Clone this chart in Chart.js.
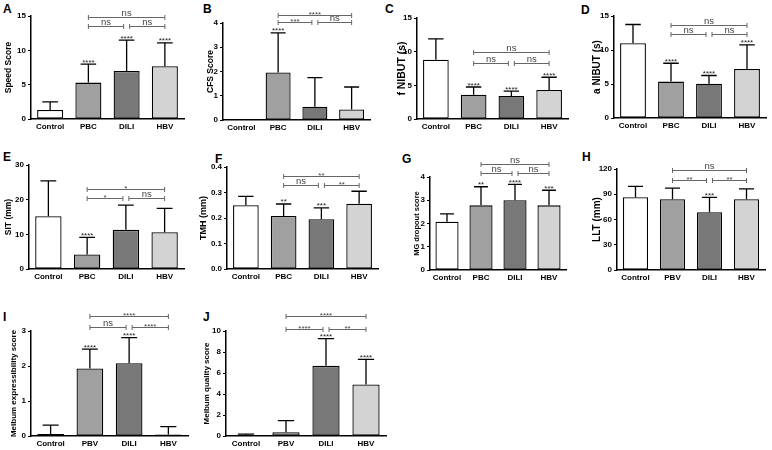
<!DOCTYPE html>
<html>
<head>
<meta charset="utf-8">
<script src="https://cdn.jsdelivr.net/npm/chart.js@4"></script>
<style>
  body { margin: 0; background: #fff; }
  #fig { position: relative; width: 772px; height: 450px; overflow: hidden; font-family: "Liberation Sans", Arial, sans-serif; }
  .tag { position: absolute; font-weight: bold; font-size: 12px; line-height: 1; color: #000; }
</style>
</head>
<body>
<div id="fig"></div>
<script>
// Groups
const groupsA = ['Control', 'PBC', 'DILI', 'HBV']
const groupsB = ['Control', 'PBV', 'DILI', 'HBV']

// Mean and SD (upper error bar) per panel
const speedMean = [1.3, 5.3, 7.0, 7.7]
const speedSD = [1.2, 2.7, 4.5, 3.4]
const cfsMean = [0, 1.96, 0.55, 0.43]
const cfsSD = [0, 1.63, 1.2, 0.93]
const fNibutMean = [8.8, 3.6, 3.4, 4.3]
const fNibutSD = [3.1, 1.15, 0.75, 1.9]
const aNibutMean = [11.0, 5.35, 5.05, 7.2]
const aNibutSD = [2.75, 2.7, 1.2, 3.55]
const sitMean = [15.2, 4.2, 11.3, 10.6]
const sitSD = [10.2, 4.9, 7.1, 6.9]
const tmhMean = [0.25, 0.208, 0.195, 0.256]
const tmhSD = [0.035, 0.047, 0.045, 0.049]
const mgMean = [2.08, 2.78, 3.0, 2.78]
const mgSD = [0.33, 0.8, 0.68, 0.65]
const lltMean = [86.5, 84.2, 68.7, 84.2]
const lltSD = [12.8, 13.1, 17.5, 12.3]
const expressMean = [0.06, 1.93, 2.08, 0.04]
const expressSD = [0.25, 0.55, 0.73, 0.23]
const qualityMean = [0.07, 0.36, 6.68, 4.9]
const qualitySD = [0.1, 1.1, 2.6, 2.4]

// Significance vs control
const speedStars = ['', '****', '****', '****']
const cfsStars = ['', '****', '', '']
const fNibutStars = ['', '****', '****', '****']
const aNibutStars = ['', '****', '****', '****']
const sitStars = ['', '****', '', '']
const tmhStars = ['', '**', '***', '']
const mgStars = ['', '**', '****', '***']
const lltStars = ['', '', '***', '']
const expressStars = ['', '****', '****', '']
const qualityStars = ['', '', '****', '****']

// Between-group brackets: [from, to, level (axis units), label]
const speedBrackets = [[1, 3, 14.85, 'ns'], [1, 2, 13.55, 'ns'], [2, 3, 13.55, 'ns']]
const cfsBrackets = [[1, 3, 4.34, '****'], [1, 2, 4.03, '***'], [2, 3, 4.03, 'ns']]
const fNibutBrackets = [[1, 3, 9.97, 'ns'], [1, 2, 8.34, 'ns'], [2, 3, 8.34, 'ns']]
const aNibutBrackets = [[1, 3, 13.74, 'ns'], [1, 2, 12.42, 'ns'], [2, 3, 12.42, 'ns']]
const sitBrackets = [[1, 3, 23.0, '*'], [1, 2, 20.6, '*'], [2, 3, 20.6, 'ns']]
const tmhBrackets = [[1, 3, 0.3635, '**'], [1, 2, 0.328, 'ns'], [2, 3, 0.328, '**']]
const mgBrackets = [[1, 3, 4.58, 'ns'], [1, 2, 4.17, 'ns'], [2, 3, 4.17, 'ns']]
const lltBrackets = [[1, 3, 119.2, 'ns'], [1, 2, 107.3, '**'], [2, 3, 107.3, '**']]
const expressBrackets = [[1, 3, 3.43, '****'], [1, 2, 3.12, 'ns'], [2, 3, 3.12, '****']]
const qualityBrackets = [[1, 3, 11.39, '****'], [1, 2, 10.22, '****'], [2, 3, 10.22, '**']]

const barColors = ['#ffffff', '#a0a0a0', '#787878', '#d3d3d3']
const FONT = '"Liberation Sans", Arial, sans-serif'

const panels = [
  { id: 'A', cats: groupsA, mean: speedMean, sd: speedSD, stars: speedStars, brackets: speedBrackets, max: 15, step: 5, title: 'Speed Score' },
  { id: 'B', cats: groupsA, mean: cfsMean, sd: cfsSD, stars: cfsStars, brackets: cfsBrackets, max: 4, step: 1, title: 'CFS Score' },
  { id: 'C', cats: groupsA, mean: fNibutMean, sd: fNibutSD, stars: fNibutStars, brackets: fNibutBrackets, max: 15, step: 5, title: 'f NIBUT (s)' },
  { id: 'D', cats: groupsA, mean: aNibutMean, sd: aNibutSD, stars: aNibutStars, brackets: aNibutBrackets, max: 15, step: 5, title: 'a NIBUT (s)' },
  { id: 'E', cats: groupsA, mean: sitMean, sd: sitSD, stars: sitStars, brackets: sitBrackets, max: 30, step: 10, title: 'SIT (mm)' },
  { id: 'F', cats: groupsA, mean: tmhMean, sd: tmhSD, stars: tmhStars, brackets: tmhBrackets, max: 0.4, step: 0.1, title: 'TMH (mm)', decimals: 1 },
  { id: 'G', cats: groupsA, mean: mgMean, sd: mgSD, stars: mgStars, brackets: mgBrackets, max: 4, step: 1, title: 'MG dropout score' },
  { id: 'H', cats: groupsB, mean: lltMean, sd: lltSD, stars: lltStars, brackets: lltBrackets, max: 120, step: 30, title: 'LLT (mm)' },
  { id: 'I', cats: groupsB, mean: expressMean, sd: expressSD, stars: expressStars, brackets: expressBrackets, max: 3, step: 1, title: 'Meibum expressibility score' },
  { id: 'J', cats: groupsB, mean: qualityMean, sd: qualitySD, stars: qualityStars, brackets: qualityBrackets, max: 10, step: 2, title: 'Meibum quality score' }
]

// plot area (page px), y-title centre and size, canvas top, panel letter position
const boxes = {
  A: { l: 31, r: 184, t: 16, b: 119, tx: 10, ts: 8.5, top: 0, lx: 3, ly: 3 },
  B: { l: 223, r: 370, t: 23, b: 120, tx: 212, ts: 8.5, top: 0, lx: 203, ly: 3 },
  C: { l: 417, r: 568, t: 18, b: 119, tx: 403, ts: 10.5, top: 0, lx: 385, ly: 3 },
  D: { l: 614, r: 766, t: 16, b: 118, tx: 598, ts: 10, top: 0, lx: 581, ly: 4 },
  E: { l: 29, r: 184, t: 165, b: 269, tx: 10, ts: 8.5, top: 146, lx: 3, ly: 151 },
  F: { l: 227, r: 378, t: 167, b: 269, tx: 204, ts: 9, top: 146, lx: 215, ly: 153 },
  G: { l: 430, r: 566, t: 177, b: 270, tx: 417, ts: 7.5, top: 146, lx: 402, ly: 153 },
  H: { l: 617, r: 765, t: 169, b: 270, tx: 598, ts: 10, top: 146, lx: 582, ly: 151 },
  I: { l: 31, r: 188, t: 331, b: 436, tx: 15, ts: 8, top: 300, lx: 3, ly: 311 },
  J: { l: 226, r: 386, t: 331, b: 436, tx: 208, ts: 8, top: 300, lx: 203, ly: 311 }
}

Chart.defaults.font.family = FONT
Chart.defaults.color = '#000'

// error bars, stars and comparison brackets
function extras(p) {
  return {
    id: 'extras' + p.id,
    afterDatasetsDraw(chart) {
      const ctx = chart.ctx
      const y = chart.scales.y
      const bars = chart.getDatasetMeta(0).data
      ctx.save()
      ctx.textAlign = 'center'
      ctx.textBaseline = 'alphabetic'
      bars.forEach((bar, i) => {
        if (!p.sd[i]) return
        const top = y.getPixelForValue(p.mean[i] + p.sd[i])
        const cap = bar.width * 0.3
        ctx.strokeStyle = '#000'
        ctx.lineWidth = 1.3
        ctx.beginPath()
        ctx.moveTo(bar.x, bar.y)
        ctx.lineTo(bar.x, top)
        ctx.moveTo(bar.x - cap, top)
        ctx.lineTo(bar.x + cap, top)
        ctx.stroke()
        if (p.stars[i]) {
          ctx.fillStyle = '#222'
          ctx.font = '8px ' + FONT
          ctx.fillText(p.stars[i], bar.x, top + 0.5)
        }
      })
      p.brackets.forEach(br => {
        const [a, b, level, text] = br
        const shared = idx => p.brackets.some(o => o !== br && o[2] === level && (o[0] === idx || o[1] === idx))
        let x1 = bars[a].x
        let x2 = bars[b].x
        if (shared(a)) x1 += 3
        if (shared(b)) x2 -= 3
        const yy = Math.round(y.getPixelForValue(level)) + 0.5
        ctx.strokeStyle = '#666'
        ctx.lineWidth = 1
        ctx.beginPath()
        ctx.moveTo(x1, yy); ctx.lineTo(x2, yy)
        ctx.moveTo(x1, yy - 2.5); ctx.lineTo(x1, yy + 2.5)
        ctx.moveTo(x2, yy - 2.5); ctx.lineTo(x2, yy + 2.5)
        ctx.stroke()
        ctx.fillStyle = '#444'
        if (text.includes('*')) {
          ctx.font = '8px ' + FONT
          ctx.fillText(text, (x1 + x2) / 2, yy + 1.5)
        } else {
          ctx.font = '9.5px ' + FONT
          ctx.fillText(text, (x1 + x2) / 2, yy - 1.5)
        }
      })
      ctx.restore()
    }
  }
}

const fig = document.getElementById('fig')

panels.forEach(p => {
  const box = boxes[p.id]
  const left = Math.round(box.tx - 0.6 * box.ts - 1)
  const right = box.r + 5
  const bottom = box.b + 18
  const w = right - left
  const h = bottom - box.top
  const yW = box.l - left

  const tag = document.createElement('div')
  tag.className = 'tag'
  tag.textContent = p.id
  tag.style.left = box.lx + 'px'
  tag.style.top = box.ly + 'px'
  fig.appendChild(tag)

  const canvas = document.createElement('canvas')
  canvas.width = w
  canvas.height = h
  canvas.style.cssText = `position:absolute;left:${left}px;top:${box.top}px;width:${w}px;height:${h}px`
  fig.appendChild(canvas)

  new Chart(canvas, {
    type: 'bar',
    data: {
      labels: p.cats,
      datasets: [{
        data: p.mean,
        backgroundColor: barColors,
        borderColor: '#000',
        borderWidth: 1.3,
        borderSkipped: false,
        barPercentage: 0.68,
        categoryPercentage: 1
      }]
    },
    options: {
      responsive: false,
      animation: false,
      devicePixelRatio: 1,
      layout: { padding: { top: box.t - box.top, right: right - box.r, left: 0, bottom: 0 } },
      plugins: { legend: { display: false }, tooltip: { enabled: false } },
      scales: {
        x: {
          grid: { display: false, drawTicks: false, tickLength: 0 },
          border: { color: '#000', width: 1.5 },
          ticks: { font: { size: 8, weight: 'bold' }, color: '#000', padding: 3, maxRotation: 0, autoSkip: false },
          afterFit(s) { s.height = 18 }
        },
        y: {
          min: 0,
          max: p.max,
          ticks: {
            stepSize: p.step,
            font: { size: 8, weight: 'bold' },
            color: '#000',
            padding: 2,
            callback: v => p.decimals ? Number(v).toFixed(p.decimals) : v
          },
          grid: { drawOnChartArea: false, drawTicks: true, tickLength: 3, color: '#000', lineWidth: 1 },
          border: { color: '#000', width: 1.5 },
          title: { display: true, text: p.title, font: { size: box.ts, weight: 'bold' }, color: '#000', padding: 0 },
          afterFit(s) { s.width = yW }
        }
      }
    },
    plugins: [extras(p)]
  })
})
</script>
</body>
</html>
